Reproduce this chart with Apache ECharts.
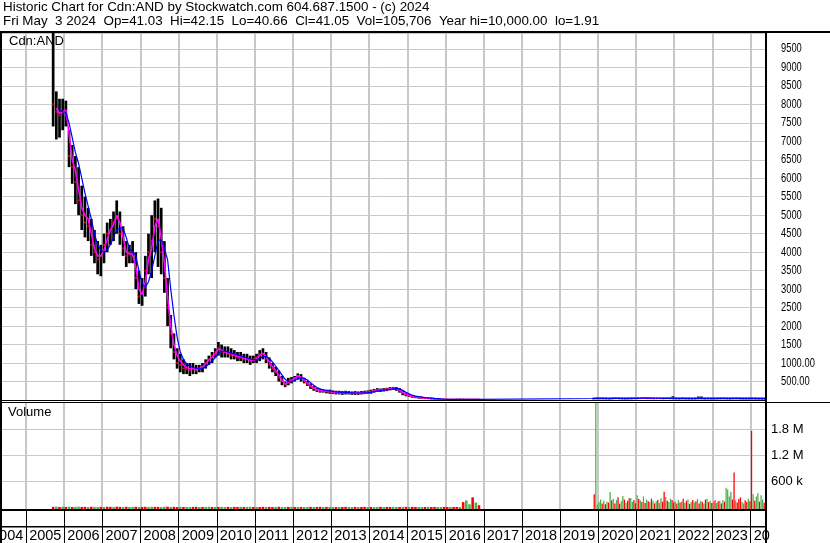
<!DOCTYPE html>
<html>
<head>
<meta charset="utf-8">
<script src="https://cdn.jsdelivr.net/npm/echarts@6.0.0/dist/echarts.min.js"></script>
<style>
html,body{margin:0;padding:0;background:#fff;}
#chart{width:830px;height:543px;}
</style>
</head>
<body>
<div id="chart"></div>
<script>
// ---------------- text ----------------
const headerLine1 = 'Historic Chart for Cdn:AND by Stockwatch.com 604.687.1500 - (c) 2024';
const headerLine2 = 'Fri May  3 2024  Op=41.03  Hi=42.15  Lo=40.66  Cl=41.05  Vol=105,706  Year hi=10,000.00  lo=1.91';
const priceTitle = 'Cdn:AND';
const volumeTitle = 'Volume';
const yearLabels = ['2004','2005','2006','2007','2008','2009','2010','2011','2012','2013','2014',
  '2015','2016','2017','2018','2019','2020','2021','2022','2023','2024'];
const priceTickValues = [500, 1000, 1500, 2000, 2500, 3000, 3500, 4000, 4500, 5000,
  5500, 6000, 6500, 7000, 7500, 8000, 8500, 9000, 9500];
const priceTickLabels = ['500.00', '1000.00', '1500', '2000', '2500', '3000', '3500', '4000', '4500', '5000',
  '5500', '6000', '6500', '7000', '7500', '8000', '8500', '9000', '9500'];
const volumeTickLabels = { 600: '600 k', 1200: '1.2 M', 1800: '1.8 M' };

// ---------------- price, segment A: monthly from 2005-09 ----------------
const startA = [2005, 9];
const highA = [
  10000, 8350, 8150, 8150,
  8100, 7300, 6900, 6600, 6300, 5800, 5500, 5200, 4900, 4600, 4300, 4200,
  4500, 4800, 4900, 5100, 5400, 5100, 4700, 4300, 4200, 4300, 4000, 3500,
  3300, 3900, 4500, 5000, 5400, 5450, 5200, 4300, 3300, 2300, 1800, 1400,
  1250, 1100, 1000, 1000, 1000, 950, 950, 1000, 1100, 1200, 1300, 1400,
  1570, 1500, 1450, 1450, 1400, 1350, 1300, 1300, 1250, 1250, 1200, 1200,
  1250, 1350, 1400, 1300, 1150, 1000, 900, 800, 650, 500, 600, 620,
  650, 720, 700, 600, 520, 450, 380, 330, 300, 290, 280, 280,
  260, 250, 250, 240, 250, 240, 230, 240, 230, 240, 250, 260,
  280, 300, 320, 310, 320, 330, 350, 355, 350, 320, 250, 200,
  160, 130, 110, 100, 90, 80, 70, 60, 50, 40, 30, 25,
  22, 20, 20, 25, 30, 28, 25, 22, 20, 18, 18
];
const lowA = [
  7400, 7050, 7100, 7300,
  7400, 6300, 5850, 5300, 5000, 4600, 4400, 4300, 3900, 3700, 3400, 3350,
  3700, 4000, 4200, 4300, 4500, 4200, 3900, 3600, 3700, 3700, 3000, 2600,
  2550, 2800, 3400, 3300, 4000, 3600, 3400, 2900, 2000, 1400, 1100, 850,
  750, 700, 700, 650, 700, 700, 750, 750, 850, 950, 1000, 1150,
  1200, 1150, 1150, 1150, 1100, 1100, 1050, 1050, 1000, 1000, 950, 1000,
  1000, 1050, 1100, 1000, 850, 750, 650, 500, 400, 350, 400, 450,
  500, 550, 500, 450, 380, 300, 250, 220, 200, 200, 180, 170,
  160, 150, 150, 140, 150, 150, 140, 140, 140, 150, 160, 170,
  170, 200, 220, 220, 230, 240, 260, 270, 250, 200, 130, 100,
  80, 60, 50, 40, 35, 30, 25, 20, 15, 10, 8, 5,
  5, 4, 4, 5, 6, 6, 5, 4, 4, 3, 3
];
const closeA = [
  8000, 7800, 7700, 7800,
  7700, 6600, 6300, 5900, 5400, 5000, 4800, 4700, 4200, 4000, 3800, 3900,
  4200, 4500, 4600, 4800, 4900, 4500, 4100, 3900, 4000, 3900, 3300, 2800,
  2900, 3500, 4000, 4300, 4900, 4700, 4000, 3300, 2500, 1800, 1300, 1000,
  950, 850, 850, 800, 850, 800, 850, 900, 1000, 1100, 1200, 1300,
  1400, 1300, 1300, 1250, 1200, 1200, 1150, 1150, 1100, 1100, 1050, 1100,
  1150, 1250, 1250, 1100, 950, 850, 750, 600, 500, 400, 500, 550,
  600, 650, 580, 500, 430, 350, 300, 270, 250, 240, 230, 220,
  200, 200, 190, 190, 200, 190, 180, 190, 180, 190, 200, 210,
  230, 260, 270, 270, 280, 290, 310, 320, 300, 250, 180, 140,
  110, 90, 80, 70, 60, 50, 45, 40, 30, 25, 20, 15,
  12, 10, 10, 12, 15, 14, 12, 10, 10, 9, 9
];
const maShortA = [
  null, 7900, 7750, 7800,
  7850, 7200, 6500, 6200, 5700, 5200, 5000, 4900, 4500, 4100, 3900, 3900,
  4050, 4350, 4600, 4750, 5000, 4800, 4400, 4000, 3950, 3950, 3600, 3000,
  2850, 3200, 3800, 4100, 4700, 4900, 4400, 3700, 2800, 2000, 1500, 1200,
  1050, 950, 880, 850, 850, 830, 850, 900, 980, 1080, 1150, 1250,
  1380, 1350, 1300, 1280, 1250, 1220, 1180, 1170, 1130, 1120, 1080, 1080,
  1120, 1200, 1260, 1180, 1030, 900, 800, 680, 550, 430, 470, 530,
  580, 650, 620, 540, 460, 390, 330, 280, 260, 250, 240, 230,
  210, 205, 200, 195, 200, 195, 190, 190, 190, 190, 200, 210,
  220, 240, 260, 265, 270, 280, 300, 315, 310, 270, 210, 160,
  120, 100, 85, 75, 65, 55, 48, 42, 35, 28, 22, 17,
  14, 12, 11, 12, 14, 14, 13, 11, 10, 10, 9
];
const maLongA = [
  null, null, 7850, 7800,
  7780, 7500, 7100, 6700, 6400, 6000, 5600, 5250, 4900, 4500, 4200, 4050,
  4000, 4050, 4200, 4400, 4600, 4650, 4650, 4400, 4100, 4000, 3900, 3500,
  3150, 3050, 3200, 3500, 3900, 4300, 4350, 4100, 3800, 3000, 2300, 1700,
  1300, 1100, 980, 920, 880, 860, 840, 850, 900, 970, 1050, 1150,
  1250, 1320, 1320, 1300, 1270, 1250, 1220, 1190, 1160, 1140, 1110, 1090,
  1090, 1120, 1170, 1180, 1130, 1030, 920, 800, 680, 560, 500, 500,
  530, 580, 600, 590, 540, 470, 400, 340, 300, 270, 255, 245,
  230, 220, 210, 205, 200, 200, 195, 192, 190, 190, 195, 200,
  215, 225, 240, 255, 265, 275, 285, 300, 310, 300, 260, 210,
  170, 130, 105, 90, 78, 67, 58, 50, 42, 35, 28, 22,
  18, 16, 15, 15, 15, 15, 15, 15, 15, 15, 15
];

// ---------------- price, segment B: monthly from 2019-11 ----------------
const startB = [2019, 11];
const highB = [
  55, 60,
  58, 60, 55, 52, 60, 62, 58, 55, 52, 55, 58, 60,
  62, 70, 65, 65, 60, 58, 62, 60, 58, 60, 60, 100,
  55, 52, 58, 55, 52, 50, 52, 95, 95, 52, 55, 52,
  52, 55, 58, 60, 55, 52, 58, 60, 55, 52, 50, 52,
  55, 50, 48, 46, 43
];
const lowB = [
  30, 32,
  32, 30, 28, 30, 32, 35, 33, 30, 30, 32, 33, 35,
  35, 38, 40, 36, 34, 33, 35, 34, 33, 35, 34, 32,
  33, 31, 34, 32, 30, 30, 31, 32, 30, 31, 32, 31,
  31, 33, 34, 35, 33, 31, 34, 35, 33, 31, 30, 31,
  33, 30, 29, 28, 40
];
const closeB = [
  42, 45,
  45, 44, 42, 40, 45, 48, 45, 43, 42, 44, 45, 47,
  48, 52, 55, 50, 48, 46, 48, 47, 45, 48, 46, 45,
  45, 43, 46, 44, 42, 41, 43, 44, 42, 43, 44, 43,
  43, 45, 46, 47, 45, 43, 46, 47, 45, 43, 42, 43,
  44, 42, 41, 40, 41.05
];
const maShortB = [
  43, 44,
  45, 44, 43, 42, 44, 46, 46, 44, 43, 44, 45, 46,
  47, 50, 52, 50, 48, 47, 47, 47, 46, 47, 46, 45,
  45, 44, 45, 44, 43, 42, 43, 44, 43, 43, 44, 43,
  43, 44, 45, 46, 45, 44, 45, 46, 45, 44, 43, 43,
  44, 43, 42, 41, 41
];
const maLongB = [
  40, 42,
  43, 44, 43, 42, 43, 45, 45, 45, 44, 44, 44, 45,
  46, 48, 50, 50, 49, 48, 47, 47, 46, 46, 46, 46,
  45, 45, 45, 44, 44, 43, 43, 43, 43, 43, 43, 43,
  43, 44, 44, 45, 45, 45, 45, 45, 45, 44, 44, 43,
  43, 43, 43, 42, 42
];

// ---------------- volume (thousands of shares) ----------------
const volA = [
  12, 18, 9, 14,
  10, 15, 8, 12, 16, 9, 11, 7, 13, 10, 8, 12,
  9, 14, 11, 7, 15, 10, 8, 12, 9, 11, 13, 10,
  8, 12, 10, 14, 9, 11, 7, 13, 15, 10, 12, 8,
  11, 9, 13, 8, 10, 12, 7, 9, 11, 14, 8, 10,
  9, 12, 8, 10, 7, 11, 9, 13, 8, 10, 12, 9,
  10, 8, 12, 9, 11, 7, 10, 13, 9, 8, 11, 10,
  8, 11, 9, 7, 12, 10, 8, 9, 11, 7, 10, 8,
  9, 7, 10, 8, 11, 9, 7, 10, 8, 9, 11, 7,
  10, 8, 9, 12, 7, 10, 8, 11, 9, 8, 10, 12,
  9, 11, 8, 10, 7, 9, 12, 8, 10, 7, 9, 11,
  8, 10, 7, 9, 8, 120, 160, 70, 230, 110, 50
];
const dirA =
  'dudu' +
  'duduudduduud' + 'uddudduduudu' + 'dduudduududd' + 'uduudduduudu' +
  'duududduduud' + 'uddudduduudu' + 'duduududdudu' + 'ududduududdu' +
  'duududduudud' + 'udduududduud' + 'dudduduudud';
const startBHalf = [2019, 11, 1];
const volB = [
  300,
  2600, 60,
  120, 180, 90, 150, 70, 130, 110, 350, 160, 200, 90, 170, 230, 80, 140, 260, 180, 100, 150, 210, 215, 120, 160, 90,
  280, 190, 160, 120, 250, 100, 180, 140, 120, 200, 150, 90, 140, 170, 100, 210, 130, 360, 240, 150, 120, 200, 170, 110,
  140, 90, 170, 110, 130, 200, 100, 150, 180, 80, 120, 170, 110, 140, 190, 90, 150, 120, 80, 180, 200, 120, 150, 100,
  120, 160, 100, 140, 150, 90, 170, 130, 450, 410, 250, 360, 180, 800, 160, 110, 190, 230, 130, 90, 160, 120, 200, 140,
  1760, 300, 150, 250, 330, 130, 280, 180, 106
];
const dirB =
  'd' + 'uu' +
  'uududududududduududduudd' +
  'udududududududuudduduudd' +
  'udududududududududududud' +
  'ududududuuuudduddduuddud' +
  'duduuduud';

// ---------------- build data via calendar mapping ----------------
function monthTime(start, i) { return start[0] + (start[1] - 1 + i + 0.5) / 12; }
function halfTime(start, j) { return start[0] + ((start[1] - 1) * 2 + start[2] + j + 0.5) / 24; }

const hlData = [], closeData = [], maShortData = [], maLongData = [];
highA.forEach((h, i) => {
  const t = monthTime(startA, i);
  hlData.push([t, lowA[i], highA[i]]);
  closeData.push([t, closeA[i]]);
  maShortData.push([t, maShortA[i]]);
  maLongData.push([t, maLongA[i]]);
});
maShortData.push([2018, null]);
highB.forEach((h, i) => {
  const t = monthTime(startB, i);
  hlData.push([t, lowB[i], highB[i]]);
  closeData.push([t, closeB[i]]);
  maShortData.push([t, maShortB[i]]);
  maLongData.push([t, maLongB[i]]);
});
const volDataA = volA.map((v, i) => [monthTime(startA, i), v, dirA[i] === 'u' ? 1 : 0]);
const volDataB = volB.map((v, i) => [halfTime(startBHalf, i), v, dirB[i] === 'u' ? 1 : 0]);
// year-boundary tick positions for the vertical gridlines
const yearTicks = yearLabels.slice(1).map(y => [Number(y)]);

// ---------------- styles ----------------
const GRID_COLOR = '#c8c8c8';
const UP = '#4cb04c', DOWN = '#ff0000';
const FONT = "'Liberation Sans', Arial, sans-serif";
const VOL_MIN = -50, VOL_MAX = 2400;
const X_MIN = 2004, X_MAX = 2024.4;
const PRICE_H = 367, VOL_H = 106.5, STRIP_H = 17;

function renderHL(params, api) {
  const t = api.value(0), lo = api.value(1), hi = api.value(2);
  const a = api.coord([t, hi]), b = api.coord([t, lo]);
  const cs = params.coordSys;
  const top = Math.max(a[1], cs.y);
  const w = api.size([1 / 12, 0])[0] * 0.85;
  return { type: 'rect', shape: { x: a[0] - w / 2, y: top, width: w, height: Math.max(1.2, b[1] - top) },
    style: { fill: '#000' } };
}
function makeVolRender(span, frac) {
  return function (params, api) {
    const t = api.value(0), v = api.value(1), up = api.value(2);
    const p = api.coord([t, v]), base = api.coord([t, VOL_MIN]);
    const cs = params.coordSys;
    const top = Math.max(p[1], cs.y);
    const w = Math.max(1, api.size([span, 0])[0] * frac);
    return { type: 'rect', shape: { x: p[0] - w / 2, y: top, width: w, height: base[1] - top },
      style: { fill: up ? UP : DOWN } };
  };
}
function renderYearLine(params, api) {
  const cs = params.coordSys;
  const p = api.coord([api.value(0), 0]);
  const x = Math.round(p[0]);
  return { type: 'line', shape: { x1: x, y1: cs.y, x2: x, y2: cs.y + cs.height },
    style: { stroke: GRID_COLOR, lineWidth: 2 } };
}

function xAxisFor(gridIndex, extra) {
  return Object.assign({
    type: 'value', gridIndex, position: 'bottom', min: X_MIN, max: X_MAX, interval: 1,
    axisLine: { show: false, onZero: false }, axisLabel: { show: false },
    splitLine: { show: false }, splitArea: { show: false }, axisTick: { show: false }
  }, extra || {});
}

const baseGraphic = [
  { type: 'text', left: 3, top: 1, silent: true,
    style: { text: headerLine1, font: '13.4px ' + FONT, fill: '#000' } },
  { type: 'text', left: 3, top: 15, silent: true,
    style: { text: headerLine2, font: '13.4px ' + FONT, fill: '#000' } },
  { type: 'text', left: 9, top: 35, silent: true, z: 100,
    style: { text: priceTitle, font: '13px ' + FONT, fill: '#000' } },
  { type: 'text', left: 8, top: 406, silent: true, z: 100,
    style: { text: volumeTitle, font: '13px ' + FONT, fill: '#000' } },
  { type: 'rect', shape: { x: 0, y: 31, width: 830, height: 2 }, style: { fill: '#000' }, z: 100, silent: true },
  { type: 'rect', shape: { x: 0, y: 31, width: 2, height: 512 }, style: { fill: '#000' }, z: 100, silent: true },
  { type: 'rect', shape: { x: 765, y: 31, width: 2, height: 512 }, style: { fill: '#000' }, z: 100, silent: true },
  { type: 'rect', shape: { x: 0, y: 400, width: 766, height: 1 }, style: { fill: '#000' }, z: 100, silent: true },
  { type: 'rect', shape: { x: 0, y: 402, width: 830, height: 1 }, style: { fill: '#000' }, z: 100, silent: true },
  { type: 'rect', shape: { x: 0, y: 509, width: 766, height: 2 }, style: { fill: '#000' }, z: 100, silent: true },
  { type: 'rect', shape: { x: 0, y: 526, width: 766, height: 1.5 }, style: { fill: '#000' }, z: 100, silent: true },
  { type: 'rect', shape: { x: 770, y: 511, width: 60, height: 32 }, style: { fill: '#fff' }, z: 90, silent: true }
];

const option = {
  animation: false,
  backgroundColor: '#fff',
  grid: [
    { left: -12, right: 64, top: 33, height: PRICE_H, outerBoundsMode: 'none', containLabel: false },
    { left: -12, right: 64, top: 403, height: VOL_H, outerBoundsMode: 'none', containLabel: false },
    { left: -12, right: 64, top: 510, height: STRIP_H, outerBoundsMode: 'none', containLabel: false }
  ],
  xAxis: [
    xAxisFor(0),
    xAxisFor(1),
    xAxisFor(2, {
      axisTick: { show: true, inside: false, length: 16, lineStyle: { color: '#000', width: 1 } },
      axisLabel: {
        show: true, margin: 1, align: 'left', padding: [0, 0, 0, 3],
        color: '#000', fontFamily: FONT, fontSize: 14.5,
        formatter: v => Number.isInteger(v) ? yearLabels[v - 2004] : ''
      }
    }),
    xAxisFor(2, { offset: -STRIP_H,
      axisTick: { show: true, inside: false, length: STRIP_H, lineStyle: { color: '#000', width: 1 } } })
  ],
  yAxis: [
    {
      type: 'value', gridIndex: 0, position: 'right', min: 0, max: 9930, interval: 500,
      axisLine: { show: false }, axisTick: { show: false }, splitArea: { show: false },
      splitLine: { show: true, lineStyle: { color: GRID_COLOR, width: 1 } },
      axisLabel: { show: false }
    },
    {
      type: 'value', gridIndex: 1, position: 'right', min: VOL_MIN, max: VOL_MAX, interval: 50,
      axisLine: { show: false }, axisTick: { show: false }, splitLine: { show: false }, splitArea: { show: false },
      axisLabel: {
        margin: 5, color: '#000', fontFamily: FONT, fontSize: 13,
        formatter: v => volumeTickLabels[v] || ''
      }
    },
    { type: 'value', gridIndex: 2, show: false, min: 0, max: 1 }
  ],
  series: [
    { type: 'custom', name: 'price year grid', xAxisIndex: 0, yAxisIndex: 0, renderItem: renderYearLine,
      data: yearTicks, z: 1, silent: true, clip: false },
    { type: 'custom', name: 'volume year grid', xAxisIndex: 1, yAxisIndex: 1, renderItem: renderYearLine,
      data: yearTicks, z: 1, silent: true, clip: false },
    { type: 'custom', name: 'range', xAxisIndex: 0, yAxisIndex: 0, renderItem: renderHL, data: hlData, z: 2, silent: true },
    { type: 'scatter', name: 'close', xAxisIndex: 0, yAxisIndex: 0, data: closeData, symbol: 'rect',
      symbolSize: [2, 2], itemStyle: { color: DOWN }, z: 3, silent: true },
    { type: 'line', name: 'ma short', xAxisIndex: 0, yAxisIndex: 0, data: maShortData, showSymbol: false,
      connectNulls: false, lineStyle: { color: '#ff00ff', width: 1.6 }, z: 4, silent: true },
    { type: 'line', name: 'ma long', xAxisIndex: 0, yAxisIndex: 0, data: maLongData, showSymbol: false,
      connectNulls: true, lineStyle: { color: '#0000ff', width: 1.2 }, z: 5, silent: true },
    { type: 'custom', name: 'vol A', xAxisIndex: 1, yAxisIndex: 1, renderItem: makeVolRender(1 / 12, 0.8),
      data: volDataA, z: 3, silent: true,
      markLine: {
        silent: true, symbol: 'none', z: 1, label: { show: false }, animation: false,
        lineStyle: { color: GRID_COLOR, width: 1, type: 'solid' },
        data: Object.keys(volumeTickLabels).map(k => ({ yAxis: Number(k) }))
      }
    },
    { type: 'custom', name: 'vol B', xAxisIndex: 1, yAxisIndex: 1, renderItem: makeVolRender(1 / 24, 0.8),
      data: volDataB, z: 3, silent: true }
  ],
  graphic: baseGraphic
};

const chart = echarts.init(document.getElementById('chart'), null, { renderer: 'canvas', width: 830, height: 543 });
chart.setOption(option);

// price-axis tick labels: condensed text placed at the axis' own pixel positions
const priceLabelEls = priceTickValues.map((v, i) => ({
  type: 'text', silent: true, z: 100,
  x: 781, y: chart.convertToPixel({ yAxisIndex: 0 }, v), scaleX: 0.72,
  style: { text: priceTickLabels[i], font: '13px ' + FONT, fill: '#000', verticalAlign: 'middle', align: 'left' }
}));
chart.setOption({ graphic: baseGraphic.concat(priceLabelEls) });
</script>
</body>
</html>
